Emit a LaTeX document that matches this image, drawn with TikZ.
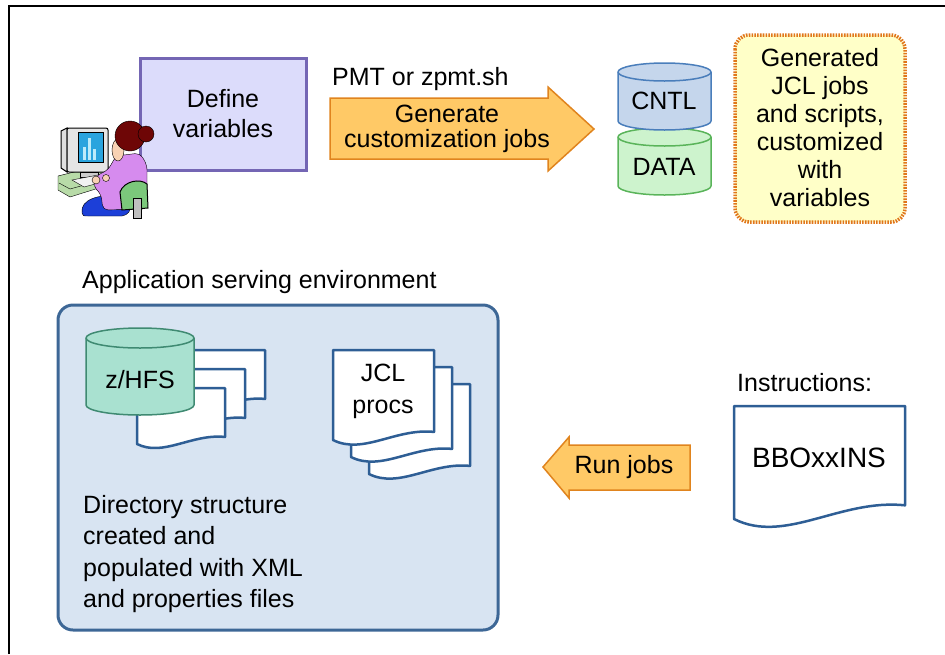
\documentclass[tikz,border=0pt]{standalone}
\usepackage{fontspec}
\setmainfont{Liberation Sans}

\definecolor{defline}{HTML}{7466B4}
\definecolor{deffill}{HTML}{DCDCFB}
\definecolor{arrline}{HTML}{E0841E}
\definecolor{arrfill}{HTML}{FFC966}
\definecolor{cntlline}{HTML}{4A7EBB}
\definecolor{cntlfill}{HTML}{C5D6EC}
\definecolor{dataline}{HTML}{5AB45A}
\definecolor{datafill}{HTML}{CDF3CD}
\definecolor{genline}{HTML}{E0761A}
\definecolor{genfill}{HTML}{FFFFC8}
\definecolor{envline}{HTML}{3D6796}
\definecolor{envfill}{HTML}{D8E4F2}
\definecolor{hfsline}{HTML}{3F8A72}
\definecolor{hfsfill}{HTML}{A9E1D0}
\definecolor{docline}{HTML}{2E5E95}
\definecolor{deskfill}{HTML}{B8DBA8}
\definecolor{screenfill}{HTML}{2AA4DE}
\definecolor{barfill}{HTML}{BDEBFA}
\definecolor{hair}{HTML}{6E0606}
\definecolor{skin}{HTML}{F8D2B4}
\definecolor{shirt}{HTML}{D68BEE}
\definecolor{pants}{HTML}{1C3FD8}
\definecolor{chair}{HTML}{7BC87B}

\tikzset{
  lbl/.style={font=\fontsize{25}{29}\selectfont, inner sep=0pt, align=center},
  defbox/.style={draw=defline, fill=deffill, line width=3pt},
  blockarrow/.style={draw=arrline, fill=arrfill, line width=1.5pt},
  genbox/.style={draw=genline, fill=genfill, line width=3.5pt,
    dash pattern=on 1.6pt off 1.2pt, rounded corners=14pt},
  envbox/.style={draw=envline, fill=envfill, line width=3pt, rounded corners=15pt},
  docstyle/.style={draw=docline, fill=white, line width=2.5pt, line join=round},
}

% drum: centre x, top y, bottom y, half width, rim radius, style
\newcommand\drum[6]{%
  \draw[#6] ({#1-#4},#2) -- ({#1-#4},#3)
    arc[start angle=180, end angle=0, x radius=#4, y radius=#5] -- ({#1+#4},#2)
    arc[start angle=0, end angle=-180, x radius=#4, y radius=#5] -- cycle;
  \draw[#6, fill=none] ({#1-#4},#2)
    arc[start angle=180, end angle=0, x radius=#4, y radius=#5];}

% docpage: left x, top y, width, left height, style
\newcommand\docpage[5]{%
  \draw[#5] (#1,#2) -- ({#1+#3},#2) -- ({#1+#3},{#2+#4-0.08*#3})
    .. controls ({#1+0.62*#3},{#2+#4-0.12*#3}) and ({#1+0.3*#3},{#2+#4+0.15*#3})
    .. (#1,{#2+#4}) -- cycle;}

\begin{document}
\begin{tikzpicture}[x=1pt, y=-1pt]
  \useasboundingbox (0,0) rectangle (945,654);
  \draw[line width=2pt] (9,654) -- (9,6) -- (945,6);

  \draw[defbox] (140,58) rectangle (306,170);
  \node[lbl, font=\fontsize{25}{30}\selectfont] (define) at (223,114) {Define\\variables};

  % person at the computer
  \draw[fill=deskfill] (58,176) -- (102,165) -- (118,170) -- (118,182) -- (70,197) -- (58,190) -- cycle;
  \draw (59,183) -- (70,189) -- (117,176);
  \draw[fill=gray!25, line width=1pt] (61,131) -- (67,128) -- (67,172) -- (61,168) -- cycle;
  \draw[fill=gray!20, line width=1pt, rounded corners=2pt] (67,128) rectangle (108,172);
  \draw[fill=screenfill] (78,132) rectangle (103,162);
  \fill[barfill] (83,147) rectangle (86,160);
  \fill[barfill] (88,138) rectangle (91,160);
  \fill[barfill] (93,149) rectangle (96,160);
  \draw[fill=gray!40] (80,172) rectangle (98,177);
  \draw[fill=gray!10] (72,180) -- (98,175) -- (110,180) -- (84,187) -- cycle;
  \draw[fill=pants] (82,213) .. controls (80,199) and (100,194) .. (118,196)
    .. controls (134,198) and (134,214) .. (122,216) -- (88,216) .. controls (83,216) .. cycle;
  \draw[fill=shirt, rounded corners=5pt] (116,156) -- (140,153) -- (147,165) -- (147,209)
    -- (103,210) -- (101,194) -- (93,186) -- (96,176) -- (108,170) -- cycle;
  \draw[fill=skin] (96,180) circle[radius=4];
  \draw[fill=skin] (106,178) circle[radius=3.5];
  \draw[fill=skin] (118,150) ellipse[x radius=6, y radius=11];
  \draw[fill=hair] (130,136) circle[radius=15];
  \draw[fill=hair] (146,134) circle[radius=8];
  \draw[fill=chair, line width=1pt] (122,210) -- (120,192) .. controls (124,181) and (140,178) .. (147,184)
    -- (148,208) -- cycle;
  \draw[fill=gray!50] (133,198) rectangle (141,218);

  \node[lbl, anchor=base west] (pmt) at (332,85) {PMT or zpmt.sh};
  \draw[blockarrow] (330,98) -- (548,98) -- (548,87) -- (594,129) -- (548,171) -- (548,159) -- (330,159) -- cycle;
  \node[lbl, font=\fontsize{25}{25}\selectfont] (gen) at (447,129) {Generate\\customization jobs};

  \drum{664.5}{137}{186}{46.5}{9}{draw=dataline, fill=datafill, line width=1.5pt}
  \drum{664.5}{72}{121}{46.5}{9}{draw=cntlline, fill=cntlfill, line width=1.5pt}
  \node[lbl] (cntl) at (664,101) {CNTL};
  \node[lbl] (data) at (664,167) {DATA};

  \draw[genbox] (735,35) rectangle (905,222);
  \node[lbl, font=\fontsize{25}{28}\selectfont] (result) at (820,128)
    {Generated\\JCL jobs\\and scripts,\\customized\\with\\variables};

  \node[lbl, anchor=base west] (envname) at (82,288) {Application serving environment};
  \draw[envbox] (58,305) rectangle (498,630);

  \docpage{177}{350}{88}{56}{docstyle}
  \docpage{157}{369}{88}{56}{docstyle}
  \docpage{137}{388}{88}{56}{docstyle}
  \drum{140}{338}{405}{54}{10}{draw=hfsline, fill=hfsfill, line width=1.5pt}
  \node[lbl] (hfs) at (140,380) {z/HFS};

  \docpage{369}{384}{101}{90}{docstyle}
  \docpage{351}{367}{101}{90}{docstyle}
  \docpage{333}{350}{101}{90}{docstyle}
  \node[lbl, font=\fontsize{25}{32}\selectfont] (procs) at (383,391) {JCL\\procs};

  \node[lbl, align=left, anchor=west, font=\fontsize{25}{31.5}\selectfont] (dirs) at (83,554)
    {Directory structure\\created and\\populated with XML\\and properties files};

  \draw[blockarrow] (690,445) -- (569,445) -- (569,437) -- (543,467) -- (569,498) -- (569,490) -- (690,490) -- cycle;
  \node[lbl] (run) at (624,467) {Run jobs};

  \node[lbl, anchor=base west] (instr) at (737,391) {Instructions:};
  \docpage{734}{406}{171}{113}{docstyle}
  \node[lbl, font=\fontsize{28}{32}\selectfont] (bbo) at (819,458) {BBOxxINS};
\end{tikzpicture}
\end{document}
